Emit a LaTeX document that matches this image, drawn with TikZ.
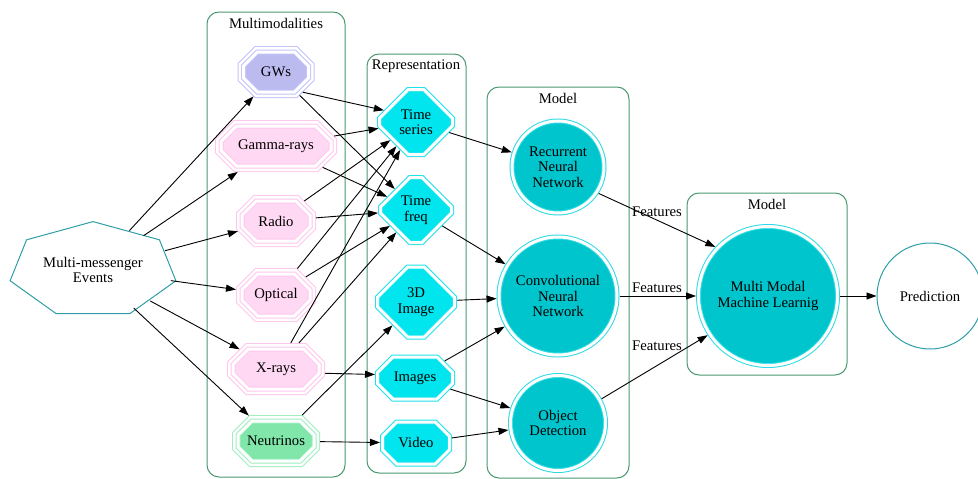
\documentclass[tikz,border=0pt]{standalone}
\usepackage{fontspec}
\setmainfont{Liberation Serif}
\usepackage{tikz}
\usetikzlibrary{shapes.misc, shapes.geometric, arrows.meta, calc}

\definecolor{clusline}{HTML}{4A9970}
\definecolor{evline}{HTML}{2E9EA6}
\definecolor{gwline}{HTML}{C4C4FA}
\definecolor{gwfill}{HTML}{BBBBF0}
\definecolor{pkline}{HTML}{FFC6EE}
\definecolor{pkfill}{HTML}{FFD8F3}
\definecolor{nuline}{HTML}{9EEEC0}
\definecolor{nufill}{HTML}{80E6AA}
\definecolor{repline}{HTML}{1EE3EC}
\definecolor{repfill}{HTML}{00E5EE}
\definecolor{mdlline}{HTML}{2EDAE2}
\definecolor{mdlfill}{HTML}{00C5CD}

\tikzset{
  modal/.style 2 args={chamfered rectangle, chamfered rectangle xsep=11pt, chamfered rectangle ysep=9pt,
    draw=#1, fill=#2, line width=1pt, double=white, double distance=3pt,
    preaction={draw=#1, line width=1pt, double=white, double distance=10pt},
    minimum height=40, inner sep=0pt, outer sep=6pt},
  rep/.style={chamfered rectangle, chamfered rectangle xsep=16pt, chamfered rectangle ysep=16pt,
    draw=repline, fill=repfill, line width=1pt, double=white, double distance=3pt,
    inner sep=0pt, outer sep=2.5pt},
  mdl/.style={circle, draw=mdlline, fill=mdlfill, line width=1pt, double=white, double distance=3pt,
    inner sep=0pt, outer sep=2.5pt},
  frame/.style={draw=clusline, line width=1pt, rounded corners=12pt},
  link/.style={->, line width=0.9pt},
}

\begin{document}
\begin{tikzpicture}[x=1pt, y=-1pt, >={Triangle[length=10pt,width=7pt]},
  font=\fontsize{14.7}{15.5}\selectfont, every node/.append style={align=center}]

\useasboundingbox (0,0) rectangle (978,479);

% clusters
\draw[frame] (207,12) rectangle (345,477);
\draw[frame] (367,54) rectangle (466,473);
\draw[frame] (487,87) rectangle (629,478);
\draw[frame] (687,193) rectangle (847,375);
\node (lmulti) at (276,23) {Multimodalities};
\node (lrep) at (416,66) {Representation};
\node (lmodel) at (558,98) {Model};
\node (lfusion) at (767,204) {Model};

% source event
\node[ellipse, minimum width=160, minimum height=88, inner sep=0pt] (mme) at (93,270) {Multi-messenger\\Events};
\draw[evline, line width=1pt, shift={(mme.center)}] (-90:85 and 48.4)
  \foreach \k in {1,...,6} { -- ({-90+\k*360/7}:85 and 48.4) } -- cycle;

% modalities
\node[modal={gwline}{gwfill}, minimum width=65] (gws) at (276,72) {GWs};
\node[modal={pkline}{pkfill}, minimum width=110, chamfered rectangle xsep=16pt] (gamma) at (276,146) {Gamma-rays};
\node[modal={pkline}{pkfill}, minimum width=68] (radio) at (276,221) {Radio};
\node[modal={pkline}{pkfill}, minimum width=68, minimum height=42] (optical) at (276,295) {Optical};
\node[modal={pkline}{pkfill}, minimum width=86, chamfered rectangle xsep=14pt] (xrays) at (276,369) {X-rays};
\node[modal={nuline}{nufill}, minimum width=76] (neutrinos) at (276,441) {Neutrinos};

% representations
\node[rep, minimum width=73, minimum height=65] (tseries) at (416,122) {Time\\series};
\node[rep, minimum width=71, minimum height=65] (tfreq) at (416,210) {Time\\freq};
\node[rep, minimum width=77, minimum height=70] (image3d) at (416,302) {3D\\Image};
\node[rep, minimum width=75, minimum height=42, chamfered rectangle ysep=9pt] (images) at (415,378) {Images};
\node[rep, minimum width=67, minimum height=42, chamfered rectangle ysep=9pt] (video) at (416,443) {Video};

% models
\node[mdl, minimum size=92] (rnn) at (558,167) {Recurrent\\Neural\\Network};
\node[mdl, minimum size=118] (cnn) at (558,296) {Convolutional\\Neural\\Network};
\node[mdl, minimum size=95] (objdet) at (558,423) {Object\\Detection};
\node[mdl, minimum size=139] (mmml) at (768,296) {Multi Modal\\Machine Learnig};
\node[circle, draw=evline, line width=1pt, minimum size=106, inner sep=0pt] (pred) at (930,296) {Prediction};

% connectors
\foreach \m in {gws,gamma,radio,optical,xrays,neutrinos}
  \draw[link] (mme) -- (\m);

\draw[link] (gws.-37) -- (tseries.160);
\draw[link] (gws) -- (tfreq);
\foreach \m in {gamma,radio,optical,xrays} {
  \draw[link] (\m) -- (tseries);
  \draw[link] (\m) -- (tfreq);
}
\draw[link] (xrays.-5) -- (images.175);
\draw[link] (neutrinos) -- (image3d);
\draw[link] (neutrinos) -- (video);

\draw[link] (tseries) -- (rnn);
\foreach \r in {tfreq,image3d,images}
  \draw[link] (\r) -- (cnn);
\draw[link] (images) -- (objdet);
\draw[link] (video) -- (objdet);

\draw[link] (rnn.-33) -- (mmml.137);
\draw[link] (cnn) -- (mmml);
\draw[link] (objdet.29) -- (mmml.213);
\node (feat1) at (657,212) {Features};
\node (feat2) at (657,288) {Features};
\node (feat3) at (657,346) {Features};

\draw[link] (mmml) -- (pred);

\end{tikzpicture}
\end{document}
